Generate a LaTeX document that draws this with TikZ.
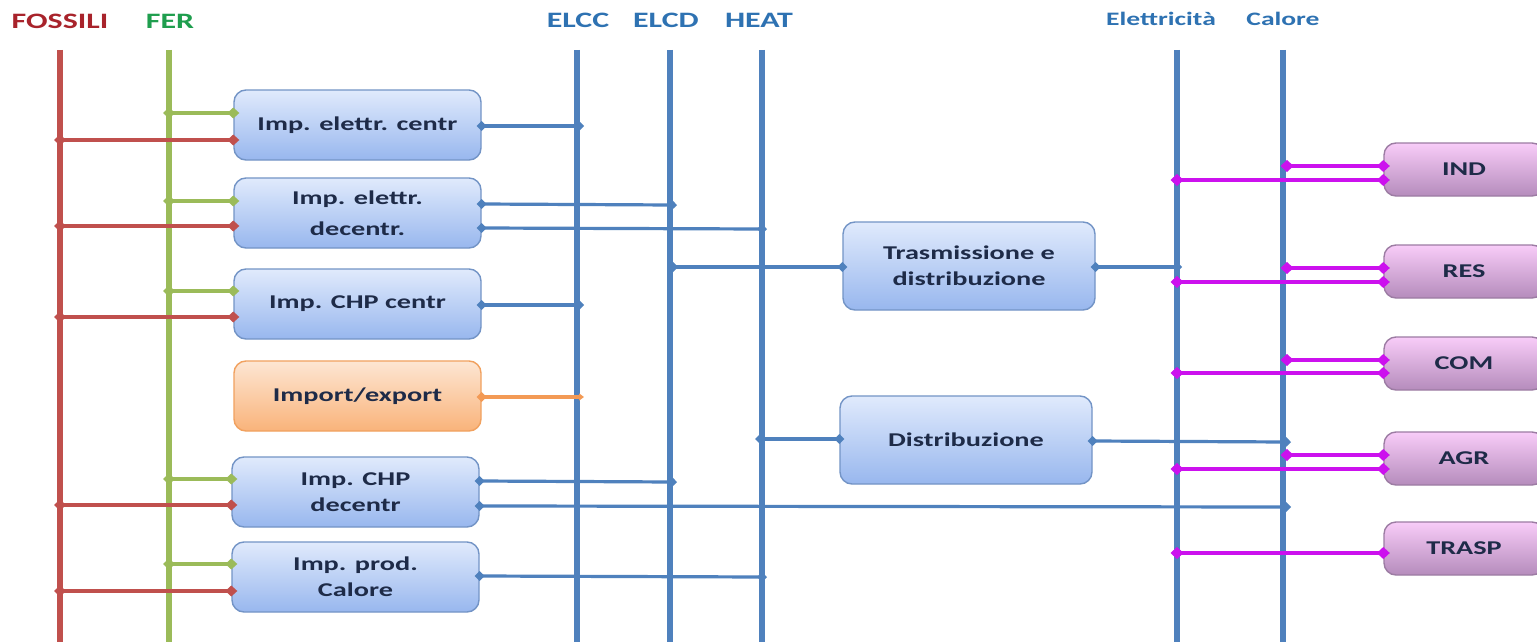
\documentclass[tikz,border=0pt]{standalone}
\usepackage{fontspec}
\setmainfont{Carlito}[FakeStretch=1.45]
\usetikzlibrary{arrows.meta}
\definecolor{fosc}{HTML}{C0504D}
\definecolor{ferc}{HTML}{9BBB59}
\definecolor{busc}{HTML}{4F81BD}
\definecolor{magc}{HTML}{CC11EE}
\definecolor{orc}{HTML}{F39A55}
\definecolor{fostxt}{HTML}{A8232B}
\definecolor{fertxt}{HTML}{1F9E4E}
\definecolor{bustxt}{HTML}{2E72B2}
\definecolor{boxtxt}{HTML}{1E2B48}
\definecolor{bluetop}{HTML}{E0EAFC}
\definecolor{bluebot}{HTML}{98B7EE}
\definecolor{blueedge}{HTML}{7394C6}
\definecolor{purtop}{HTML}{F8CCF8}
\definecolor{purbot}{HTML}{B58CBC}
\definecolor{puredge}{HTML}{9C7CA3}
\definecolor{ortop}{HTML}{FDE6D3}
\definecolor{orbot}{HTML}{F9B37A}
\definecolor{oredge}{HTML}{F1A15F}
\tikzset{
  busline/.style={line width=6pt,busc},
  fosline/.style={line width=5.5pt,fosc},
  ferline/.style={line width=5.5pt,ferc},
  bustitle/.style={text=bustxt,font=\bfseries\fontsize{22}{24}\selectfont,inner sep=0pt},
  bustitlesmall/.style={text=bustxt,font=\bfseries\fontsize{19}{22}\selectfont,inner sep=0pt},
  leftbox/.style={draw=blueedge,line width=1.4pt,rounded corners=12pt,top color=bluetop,bottom color=bluebot,
     minimum width=247pt,minimum height=70pt,inner sep=0pt,align=center,text=boxtxt,
     font=\bfseries\fontsize{19.5}{26}\selectfont},
  midbox/.style={leftbox,minimum width=252pt,minimum height=88pt},
  orbox/.style={leftbox,draw=oredge,top color=ortop,bottom color=orbot},
  sectbox/.style={draw=puredge,line width=1.4pt,rounded corners=12pt,top color=purtop,bottom color=purbot,
     minimum width=160pt,minimum height=53pt,inner sep=0pt,text=boxtxt,
     font=\bfseries\fontsize{19.5}{22}\selectfont},
  redc/.style={fosc,line width=3.5pt,{Diamond[length=12pt,width=11pt]}-{Diamond[length=12pt,width=11pt]},shorten <=-6pt,shorten >=-6pt},
  greenc/.style={redc,ferc},
  bluec/.style={fosc,busc,line width=3.2pt,{Diamond[length=10pt,width=10pt]}-{Diamond[length=10pt,width=10pt]},shorten <=-5pt,shorten >=-5pt},
  purc/.style={magc,line width=3.8pt,{Diamond[length=13pt,width=12pt]}-{Diamond[length=13pt,width=12pt]},shorten <=-6.5pt,shorten >=-6.5pt},
  orangec/.style={orc,line width=3.2pt,{Diamond[length=10pt,width=10pt]}-{Triangle[length=5pt,width=7pt]},shorten <=-5pt}
}
\begin{document}
\begin{tikzpicture}[x=1pt,y=-1pt]
\useasboundingbox[fill=white] (0,0) rectangle (1537,642);

% bus coordinates (tops)
\coordinate (fos) at (60,50);
\coordinate (fer) at (169,50);
\coordinate (elcc) at (577,50);
\coordinate (elcd) at (670,50);
\coordinate (heat) at (762,50);
\coordinate (ele) at (1177,50);
\coordinate (cal) at (1283,50);

% titles
\node[bustitle,text=fostxt] (tfos) at (60,21) {FOSSILI};
\node[bustitle,text=fertxt] (tfer) at (170,21) {FER};
\node[bustitle] (telcc) at (578,20) {ELCC};
\node[bustitle] (telcd) at (666,20) {ELCD};
\node[bustitle] (theat) at (759,20) {HEAT};
\node[bustitlesmall] (tele) at (1161,19) {Elettricità};
\node[bustitlesmall] (tcal) at (1283,19) {Calore};

% vertical lines
\draw[fosline] (fos) -- (fos |- 0,645);
\draw[ferline] (fer) -- (fer |- 0,645);
\draw[busline] (elcc) -- (elcc |- 0,645);
\draw[busline] (elcd) -- (elcd |- 0,645);
\draw[busline] (heat) -- (heat |- 0,645);
\draw[busline] (ele) -- (ele |- 0,645);
\draw[busline] (cal) -- (cal |- 0,645);

% left boxes
\node[leftbox] (b1) at (357.5,125) {Imp. elettr. centr};
\node[leftbox,font=\bfseries\fontsize{19.5}{31}\selectfont] (b2) at (357.5,213) {Imp. elettr.\\decentr.};
\node[leftbox] (b3) at (357.5,304) {Imp. CHP centr};
\node[orbox] (b4) at (357.5,396) {Import/export};
\node[leftbox] (b5) at (355.5,492) {Imp. CHP\\decentr};
\node[leftbox] (b6) at (355.5,577) {Imp. prod.\\Calore};

% middle boxes
\node[midbox] (tr) at (969,266) {Trasmissione e\\distribuzione};
\node[midbox] (di) at (966,440) {Distribuzione};

% sector boxes
\node[sectbox] (ind) at (1464,169.5) {IND};
\node[sectbox] (res) at (1464,271.5) {RES};
\node[sectbox] (com) at (1464,363.5) {COM};
\node[sectbox] (agr) at (1464,458.5) {AGR};
\node[sectbox] (trasp) at (1464,548.5) {TRASP};

% FER / FOSSILI connectors
\draw[greenc] (b1.west |- 0,113) -- (fer |- 0,113);
\draw[redc]   (b1.west |- 0,140) -- (fos |- 0,140);
\draw[greenc] (b2.west |- 0,201) -- (fer |- 0,201);
\draw[redc]   (b2.west |- 0,226) -- (fos |- 0,226);
\draw[greenc] (b3.west |- 0,291) -- (fer |- 0,291);
\draw[redc]   (b3.west |- 0,317) -- (fos |- 0,317);
\draw[greenc] (b5.west |- 0,479) -- (fer |- 0,479);
\draw[redc]   (b5.west |- 0,505) -- (fos |- 0,505);
\draw[greenc] (b6.west |- 0,564) -- (fer |- 0,564);
\draw[redc]   (b6.west |- 0,591) -- (fos |- 0,591);

% plant outputs
\draw[bluec] (b1.east |- 0,126) -- ([xshift=2pt]elcc |- 0,126);
\draw[bluec] (b2.east |- 0,204) -- ([xshift=2pt]elcd |- 0,205);
\draw[bluec] (b2.east |- 0,228) -- (heat |- 0,229);
\draw[bluec] (b3.east |- 0,305) -- ([xshift=2pt]elcc |- 0,305);
\draw[orangec] (b4.east |- 0,397) -- ([xshift=7pt]elcc |- 0,397);
\draw[bluec] (b5.east |- 0,481) -- ([xshift=2pt]elcd |- 0,482);
\draw[bluec] (b5.east |- 0,506) -- ([xshift=3pt]cal |- 0,507);
\draw[bluec] (b6.east |- 0,576) -- (heat |- 0,577);

% networks
\draw[bluec] ([xshift=3pt]elcd |- 0,267) -- (tr.west |- 0,267);
\draw[bluec] (tr.east |- 0,267) -- (ele |- 0,267);
\draw[bluec] ([xshift=-2pt]heat |- 0,439) -- (di.west |- 0,439);
\draw[bluec] (di.east |- 0,441) -- ([xshift=3pt]cal |- 0,442);

% sector connectors
\draw[purc] (ind.west |- 0,166) -- ([xshift=4pt]cal |- 0,166);
\draw[purc] (ind.west |- 0,180) -- (ele |- 0,180);
\draw[purc] (res.west |- 0,268) -- ([xshift=4pt]cal |- 0,268);
\draw[purc] (res.west |- 0,282) -- (ele |- 0,282);
\draw[purc] (com.west |- 0,360) -- ([xshift=4pt]cal |- 0,360);
\draw[purc] (com.west |- 0,373) -- (ele |- 0,373);
\draw[purc] (agr.west |- 0,455) -- ([xshift=4pt]cal |- 0,455);
\draw[purc] (agr.west |- 0,469) -- (ele |- 0,469);
\draw[purc] (trasp.west |- 0,553) -- (ele |- 0,553);
\end{tikzpicture}
\end{document}
